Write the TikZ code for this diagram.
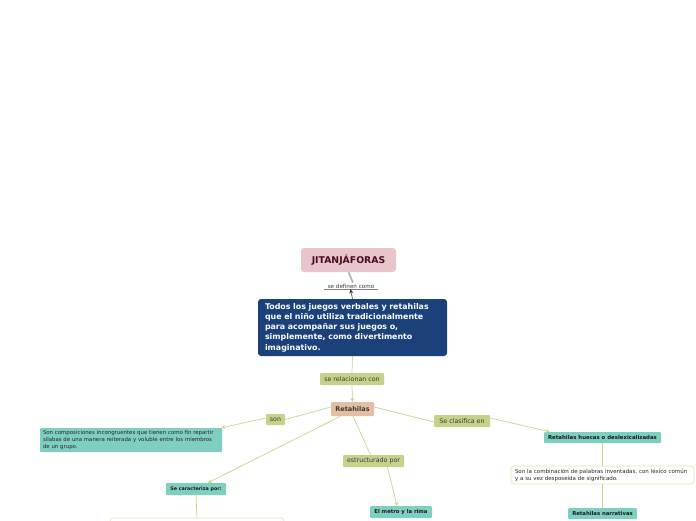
\documentclass[tikz,border=0pt]{standalone}
\usepackage{fontspec}
\setmainfont{DejaVu Sans}
\usetikzlibrary{arrows.meta}
\definecolor{pinkC}{HTML}{E8C4CB}
\definecolor{maroonC}{HTML}{4A0A1A}
\definecolor{blueC}{HTML}{1B417A}
\definecolor{labC}{HTML}{C5D28A}
\definecolor{peachC}{HTML}{E2BFA2}
\definecolor{tealC}{HTML}{7ECFC0}
\definecolor{lineC}{HTML}{C9D68F}
\definecolor{greyC}{HTML}{B0B0B8}
\definecolor{txtC}{HTML}{3A3A3A}
\definecolor{wbordC}{HTML}{DDE3B8}
\begin{document}
\begin{tikzpicture}[x=1pt,y=-1pt,
  conn/.style={draw=lineC, line width=0.7pt},
  arr/.style={conn, -{Stealth[length=4pt,width=4pt]}},
  lab/.style={fill=labC, rounded corners=1pt, font=\fontsize{6.3}{7}\selectfont, text=txtC, inner sep=0pt, minimum height=12pt},
  tealbox/.style={fill=tealC, rounded corners=1pt, font=\bfseries\fontsize{5.3}{6}\selectfont, text=black!90, inner sep=0pt, minimum height=11pt},
  whitebox/.style={fill=white, draw=wbordC, line width=0.6pt, rounded corners=3pt, font=\fontsize{5.5}{6.8}\selectfont, text=black!85, inner sep=0pt}
]
\clip (0,0) rectangle (696,520);
\fill[white] (0,0) rectangle (696,520);

\node[fill=pinkC, rounded corners=3pt, font=\bfseries\fontsize{9.3}{10}\selectfont, text=maroonC, minimum width=95pt, minimum height=24pt, inner sep=0pt] (jit) at (348.5,260) {JITANJÁFORAS};
\node[font=\fontsize{5.6}{6.5}\selectfont, text=txtC, minimum width=54pt, inner sep=1pt] (def) at (351,286) {se definen como};
\draw[black!50, line width=0.4pt] (def.south west) -- (def.south east);

\node[fill=blueC, rounded corners=3pt, text=white, font=\bfseries\fontsize{7.9}{10.3}\selectfont, minimum width=189pt, minimum height=57pt, text width=175pt, align=left, inner sep=0pt] (blue) at (352.5,327.5) {Todos los juegos verbales y retahilas\\que el niño utiliza tradicionalmente\\para acompañar sus juegos o,\\simplemente, como divertimento\\imaginativo.};

\node[lab, minimum width=64pt] (rel) at (352,379) {se relacionan con};
\node[fill=peachC, rounded corners=1pt, font=\bfseries\fontsize{6.5}{7.5}\selectfont, text=txtC, minimum width=43pt, minimum height=14pt, inner sep=0pt] (ret) at (352.5,409) {Retahilas};

\node[lab, minimum width=19pt, minimum height=11pt] (son) at (275.5,419.5) {son};
\node[fill=tealC, rounded corners=1pt, font=\fontsize{5.4}{6.6}\selectfont, text=black!85, minimum width=182pt, minimum height=24pt, text width=176pt, align=left, inner sep=0pt] (comp) at (131,440) {Son composiciones incongruentes que tienen como fin repartir\\sílabas de una manera reiterada y voluble entre los miembros\\de un grupo.};

\node[lab, minimum width=56pt] (clas) at (462,421) {Se clasifica en};
\node[tealbox, minimum width=117pt, font=\bfseries\fontsize{5.4}{6}\selectfont] (huec) at (602.5,437.5) {Retahilas huecas o deslexicalizadas};
\node[whitebox, minimum width=183pt, minimum height=18pt, text width=175pt, align=left] (comb) at (602.5,475) {Son la combinación de palabras inventadas, con léxico común\\y a su vez desposeída de significado.};
\node[tealbox, minimum width=69pt] (narr) at (602.5,513.5) {Retahilas narrativas};

\node[lab, minimum width=61pt] (estr) at (373.5,461) {estructurado por};
\node[tealbox, minimum width=62pt, minimum height=12pt] (metro) at (401,512) {El metro y la rima};

\node[tealbox, minimum width=60pt, minimum height=12pt, font=\bfseries\fontsize{4.8}{6}\selectfont] (carac) at (196,489) {Se caracteriza por:};
\node[whitebox, minimum width=174pt, minimum height=24pt] (bot) at (197,530) {};

% connectors
\draw[greyC, line width=1.6pt] (jit.south) -- ([xshift=2pt]def.north);
\draw[black!80, line width=0.5pt, -{Stealth[length=4pt,width=4pt]}] (blue.north) -- ([xshift=-0.5pt]def.south);
\draw[conn] (blue.south) -- (rel.north);
\draw[arr] (rel.south) -- (ret.north);
\draw[conn] ([yshift=2pt]ret.west) -- (son.east);
\draw[arr] ([yshift=1.5pt]son.west) -- ([xshift=-1pt]comp.north east);
\draw[conn] ([yshift=2pt]ret.east) -- ([yshift=-1pt]clas.west);
\draw[arr] ([yshift=3pt]clas.east) -- ([xshift=6pt]huec.north west);
\draw[conn] (huec.south) -- (comb.north);
\draw[conn] (comb.south) -- (narr.north);
\draw[conn] ([xshift=0.5pt]ret.south) -- ([xshift=-3pt]estr.north);
\draw[arr] ([xshift=14pt]estr.south) -- ([xshift=-4pt]metro.north);
\draw[arr] ([xshift=-12pt]ret.south) -- ([xshift=12pt]carac.north);
\draw[conn] (carac.south) -- (bot.north);
\end{tikzpicture}
\end{document}
